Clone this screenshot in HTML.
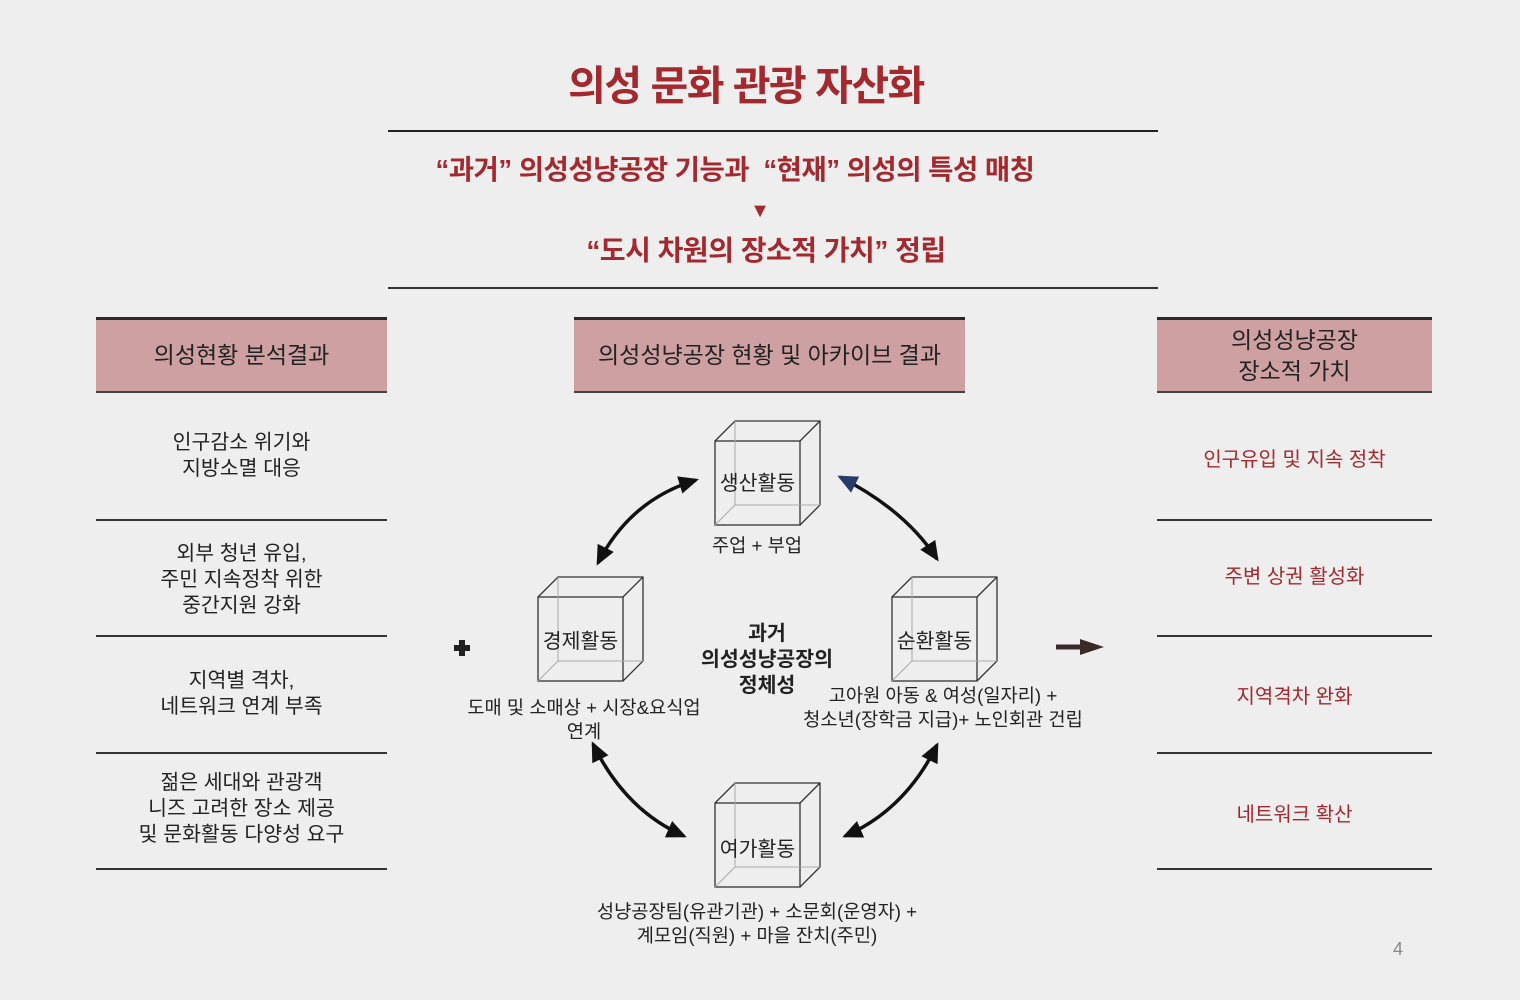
<!DOCTYPE html>
<html><head><meta charset="utf-8"><style>
body{margin:0;width:1520px;height:1000px;background:#efeeee;position:relative;overflow:hidden;font-family:"Liberation Sans","Noto Sans CJK KR",sans-serif;color:#222}
.a{position:absolute}
.c{text-align:center}
.red{color:#a3292e;font-weight:bold}
.hd{position:absolute;background:#cfa0a1;border-top:3px solid #2a2a2a;border-bottom:2px solid #444;display:flex;align-items:center;justify-content:center;text-align:center;font-size:23px;line-height:31px;color:#222}
.hl{position:absolute;height:1.5px;background:#333}
.cell{position:absolute;text-align:center;font-size:20.5px;line-height:26px;color:#222}
.rc{position:absolute;text-align:center;font-size:20px;color:#a3292e}
.lb{position:absolute;text-align:center;font-size:18.7px;line-height:24px;color:#222}
.cl{position:absolute;text-align:center;width:115px;font-size:20.5px}
</style></head><body>
<div class="a c red" style="left:436px;top:58px;width:620px;font-size:41px;letter-spacing:-1.5px;line-height:56px">의성 문화 관광 자산화</div>
<div class="hl" style="left:388px;top:130px;width:770px;height:2px;background:#222"></div>
<div class="a c red" style="left:335px;top:152px;width:800px;font-size:27.5px;line-height:36px;letter-spacing:-0.5px">“과거” 의성성냥공장 기능과 &nbsp;“현재” 의성의 특성 매칭</div>
<div class="a c" style="left:740px;top:200px;width:40px;font-size:20px;color:#a3292e">▼</div>
<div class="a c red" style="left:366px;top:233px;width:800px;font-size:28px;line-height:36px;letter-spacing:-0.5px">“도시 차원의 장소적 가치” 정립</div>
<div class="hl" style="left:388px;top:287px;width:770px"></div>

<div class="hd" style="left:96px;top:317px;width:291px;height:71px">의성현황 분석결과</div>
<div class="hd" style="left:574px;top:317px;width:391px;height:71px">의성성냥공장 현황 및 아카이브 결과</div>
<div class="hd" style="left:1157px;top:317px;width:275px;height:71px">의성성냥공장<br>장소적 가치</div>

<div class="cell" style="left:96px;top:430px;width:291px">인구감소 위기와<br>지방소멸 대응</div>
<div class="hl" style="left:96px;top:519px;width:291px"></div>
<div class="cell" style="left:96px;top:541px;width:291px">외부 청년 유입,<br>주민 지속정착 위한<br>중간지원 강화</div>
<div class="hl" style="left:96px;top:635px;width:291px"></div>
<div class="cell" style="left:96px;top:668px;width:291px">지역별 격차,<br>네트워크 연계 부족</div>
<div class="hl" style="left:96px;top:752px;width:291px"></div>
<div class="cell" style="left:96px;top:770px;width:291px">젊은 세대와 관광객<br>니즈 고려한 장소 제공<br>및 문화활동 다양성 요구</div>
<div class="hl" style="left:96px;top:868px;width:291px"></div>

<div class="rc" style="left:1157px;top:443px;width:275px">인구유입 및 지속 정착</div>
<div class="hl" style="left:1157px;top:519px;width:275px"></div>
<div class="rc" style="left:1157px;top:560px;width:275px">주변 상권 활성화</div>
<div class="hl" style="left:1157px;top:635px;width:275px"></div>
<div class="rc" style="left:1157px;top:680px;width:275px">지역격차 완화</div>
<div class="hl" style="left:1157px;top:752px;width:275px"></div>
<div class="rc" style="left:1157px;top:798px;width:275px">네트워크 확산</div>
<div class="hl" style="left:1157px;top:868px;width:275px"></div>

<svg class="a" style="left:0;top:0" width="1520" height="1000">
<defs>
<marker id="m" markerWidth="20" markerHeight="18" refX="17" refY="9" orient="auto-start-reverse" markerUnits="userSpaceOnUse"><path d="M0,0L20,9L0,18Z" fill="#111"/></marker>
<marker id="mb" markerWidth="20" markerHeight="18" refX="17" refY="9" orient="auto-start-reverse" markerUnits="userSpaceOnUse"><path d="M0,0L20,9L0,18Z" fill="#2a3a6a"/></marker>
<g id="cube" fill="none" stroke="#333" stroke-width="1.3">
<rect x="0" y="20" width="85" height="84"/>
<path d="M0,20L20,0H105V84L85,104M85,20L105,0"/>
<path d="M20,0V84H105M20,84L0,104" stroke="#aaa" stroke-width="1"/>
</g>
</defs>
<use href="#cube" x="715" y="421"/>
<use href="#cube" x="538" y="577"/>
<use href="#cube" x="892" y="577"/>
<use href="#cube" x="715" y="783"/>
<g fill="none" stroke="#111" stroke-width="3.5">
<path d="M598,563 Q630,500 696,480" marker-end="url(#m)" marker-start="url(#m)"/>
<path d="M840,477 Q905,510 937,559" marker-end="url(#m)" marker-start="url(#mb)"/>
<path d="M593,744 Q625,810 684,836" marker-end="url(#m)" marker-start="url(#m)"/>
<path d="M937,745 Q905,810 845,836" marker-end="url(#m)" marker-start="url(#m)"/>
</g>
<path d="M1056,647H1082" stroke="#3a2a2a" stroke-width="5"/>
<path d="M1080,639L1104,647L1080,655Z" fill="#3a2a2a"/>
<path d="M454,648H470M462,640V656" stroke="#222" stroke-width="6"/>
</svg>

<div class="cl" style="left:700px;top:466px">생산활동</div>
<div class="cl" style="left:523px;top:624px">경제활동</div>
<div class="cl" style="left:877px;top:624px">순환활동</div>
<div class="cl" style="left:700px;top:832px">여가활동</div>
<div class="lb" style="left:657px;top:534px;width:200px">주업 + 부업</div>
<div class="a c" style="left:647px;top:621px;width:240px;font-size:20.5px;font-weight:bold;line-height:26px">과거<br>의성성냥공장의<br>정체성</div>
<div class="lb" style="left:434px;top:696px;width:300px">도매 및 소매상 + 시장&amp;요식업<br>연계</div>
<div class="lb" style="left:783px;top:684px;width:320px">고아원 아동 &amp; 여성(일자리) +<br>청소년(장학금 지급)+ 노인회관 건립</div>
<div class="lb" style="left:537px;top:900px;width:440px">성냥공장팀(유관기관) + 소문회(운영자) +<br>계모임(직원) + 마을 잔치(주민)</div>
<div class="a" style="left:1393px;top:939px;font-size:18px;color:#888">4</div>
</body></html>
